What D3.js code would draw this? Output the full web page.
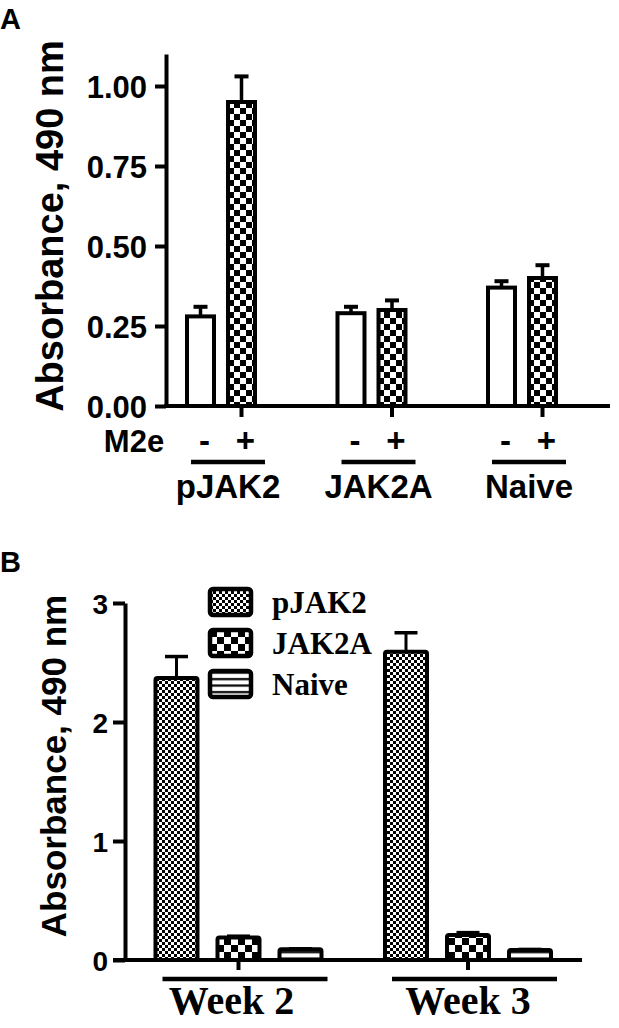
<!DOCTYPE html>
<html>
<head>
<meta charset="utf-8">
<script src="https://cdn.jsdelivr.net/npm/d3@7"></script>
<style>
  html, body { margin: 0; padding: 0; background: #fff; }
  svg { display: block; }
</style>
</head>
<body>
<svg id="chart" width="619" height="1028"></svg>
<script>
// ---------- Panel A data ----------
const groupsA = ["pJAK2", "JAK2A", "Naive"];
const m2eLevels = ["-", "+"];
const meanMinus = [0.28, 0.29, 0.37];
const meanPlus = [0.95, 0.30, 0.40];
const errMinus = [0.03, 0.02, 0.02];
const errPlus = [0.08, 0.03, 0.04];
const ticksA = [0, 0.25, 0.5, 0.75, 1.0];

// ---------- Panel B data ----------
const weeks = ["Week 2", "Week 3"];
const seriesB = ["pJAK2", "JAK2A", "Naive"];
const meanPJAK2 = [2.37, 2.59];
const errPJAK2 = [0.18, 0.16];
const meanJAK2A = [0.19, 0.21];
const errJAK2A = [0.01, 0.02];
const meanNaive = [0.09, 0.085];
const errNaive = [0.004, 0.004];
const ticksB = [0, 1, 2, 3];

const svg = d3.select("#chart");
const SANS = "'Liberation Sans', Arial, sans-serif";
const SERIF = "'Liberation Serif', 'Times New Roman', serif";

// ---------- patterns ----------
const defs = svg.append("defs");
function checker(id, c) {
  const p = defs.append("pattern").attr("id", id).attr("patternUnits", "userSpaceOnUse")
    .attr("width", 2 * c).attr("height", 2 * c);
  p.append("rect").attr("width", 2 * c).attr("height", 2 * c).attr("fill", "#fff");
  p.append("rect").attr("x", 0).attr("y", 0).attr("width", c).attr("height", c).attr("fill", "#000");
  p.append("rect").attr("x", c).attr("y", c).attr("width", c).attr("height", c).attr("fill", "#000");
}
checker("chkA", 6);
checker("chkFine", 3);
checker("chkCoarse", 7);
(function () {
  const p = defs.append("pattern").attr("id", "stripes").attr("patternUnits", "userSpaceOnUse")
    .attr("width", 10).attr("height", 6.5);
  p.append("rect").attr("width", 10).attr("height", 6.5).attr("fill", "#fff");
  p.append("rect").attr("x", 0).attr("y", 2).attr("width", 10).attr("height", 2.2).attr("fill", "#000");
})();

// ================= PANEL A =================
const yA = d3.scaleLinear().domain([0, 1.1]).range([406, 54]);
const xGA = d3.scalePoint().domain(groupsA).range([221, 522]);
const xIA = d3.scaleBand().domain(m2eLevels).range([-36, 36]).paddingInner(10 / 41).paddingOuter(0);
const bwA = xIA.bandwidth();

const gA = svg.append("g");
const dataA = [];
groupsA.forEach((g, i) => {
  dataA.push({ g, k: "-", v: meanMinus[i], e: errMinus[i] });
  dataA.push({ g, k: "+", v: meanPlus[i], e: errPlus[i] });
});
const cxA = d => xGA(d.g) + xIA(d.k) + bwA / 2;

// error bars
gA.selectAll(".errA").data(dataA).enter().append("line")
  .attr("x1", cxA).attr("x2", cxA)
  .attr("y1", d => yA(d.v)).attr("y2", d => yA(d.v + d.e))
  .attr("stroke", "#000").attr("stroke-width", 3.5);
gA.selectAll(".capA").data(dataA).enter().append("line")
  .attr("x1", d => cxA(d) - 7).attr("x2", d => cxA(d) + 7)
  .attr("y1", d => yA(d.v + d.e)).attr("y2", d => yA(d.v + d.e))
  .attr("stroke", "#000").attr("stroke-width", 4);
// bars
gA.selectAll(".barA").data(dataA).enter().append("rect")
  .attr("x", d => xGA(d.g) + xIA(d.k) + 2)
  .attr("width", bwA - 4)
  .attr("y", d => yA(d.v))
  .attr("height", d => yA(0) - yA(d.v))
  .attr("fill", d => d.k === "+" ? "url(#chkA)" : "#fff")
  .attr("stroke", "#000").attr("stroke-width", 4);

// y axis A
const axA = gA.append("g").attr("transform", "translate(166,0)")
  .call(d3.axisLeft(yA).tickValues(ticksA).tickFormat(d3.format(".2f"))
    .tickSize(11).tickSizeOuter(0).tickPadding(8));
axA.select(".domain").attr("stroke-width", 4);
axA.selectAll(".tick line").attr("stroke-width", 4);
axA.selectAll(".tick text").attr("font-family", SANS).attr("font-weight", "bold")
  .attr("font-size", 31).attr("fill", "#000").attr("dy", "0.36em");

// x axis A
gA.append("line").attr("x1", 164).attr("x2", 610).attr("y1", yA(0)).attr("y2", yA(0))
  .attr("stroke", "#000").attr("stroke-width", 4);
gA.selectAll(".xtA").data(groupsA).enter().append("line")
  .attr("x1", g => xGA(g) + xIA("+") + bwA / 2).attr("x2", g => xGA(g) + xIA("+") + bwA / 2)
  .attr("y1", yA(0)).attr("y2", yA(0) + 11)
  .attr("stroke", "#000").attr("stroke-width", 4);

// +/- labels
gA.selectAll(".pmA").data(dataA).enter().append("text")
  .attr("x", d => cxA(d) + 4).attr("y", 452)
  .attr("text-anchor", "middle")
  .attr("font-family", SANS).attr("font-weight", "bold").attr("font-size", 33)
  .text(d => d.k);
gA.append("text").attr("x", 134).attr("y", 452).attr("text-anchor", "middle")
  .attr("font-family", SANS).attr("font-weight", "bold").attr("font-size", 31).text("M2e");

// group lines and labels
const lineA = g => [xGA(g) + xIA("-") + 6, xGA(g) + xIA("+") + bwA + 8];
gA.selectAll(".glA").data(groupsA).enter().append("line")
  .attr("x1", g => lineA(g)[0]).attr("x2", g => lineA(g)[1])
  .attr("y1", 462).attr("y2", 462).attr("stroke", "#000").attr("stroke-width", 4.5);
gA.selectAll(".gtA").data(groupsA).enter().append("text")
  .attr("x", g => (lineA(g)[0] + lineA(g)[1]) / 2).attr("y", 498)
  .attr("text-anchor", "middle")
  .attr("font-family", SANS).attr("font-weight", "bold").attr("font-size", 33)
  .text(g => g);

// axis title A
gA.append("text").attr("transform", "translate(63,226) rotate(-90)")
  .attr("text-anchor", "middle")
  .attr("font-family", SANS).attr("font-weight", "bold").attr("font-size", 38)
  .text("Absorbance, 490 nm");
svg.append("text").attr("x", 0).attr("y", 29)
  .attr("font-family", SANS).attr("font-weight", "bold").attr("font-size", 29).text("A");

// ================= PANEL B =================
const yB = d3.scaleLinear().domain([0, 3]).range([960, 603]);
const xGB = d3.scalePoint().domain(weeks).range([238.5, 468]);
const xIB = d3.scaleBand().domain(seriesB).range([-85, 85]).paddingInner(16 / 62).paddingOuter(0);
const bwB = xIB.bandwidth();
const fillB = { "pJAK2": "url(#chkFine)", "JAK2A": "url(#chkCoarse)", "Naive": "url(#stripes)" };

const gB = svg.append("g");
const dataB = [];
weeks.forEach((w, i) => {
  dataB.push({ w, s: "pJAK2", v: meanPJAK2[i], e: errPJAK2[i] });
  dataB.push({ w, s: "JAK2A", v: meanJAK2A[i], e: errJAK2A[i] });
  dataB.push({ w, s: "Naive", v: meanNaive[i], e: errNaive[i] });
});
const cxB = d => xGB(d.w) + xIB(d.s) + bwB / 2;

gB.selectAll(".errB").data(dataB).enter().append("line")
  .attr("x1", cxB).attr("x2", cxB)
  .attr("y1", d => yB(d.v)).attr("y2", d => yB(d.v + d.e))
  .attr("stroke", "#000").attr("stroke-width", 3);
gB.selectAll(".capB").data(dataB).enter().append("line")
  .attr("x1", d => cxB(d) - 11.5).attr("x2", d => cxB(d) + 11.5)
  .attr("y1", d => yB(d.v + d.e)).attr("y2", d => yB(d.v + d.e))
  .attr("stroke", "#000").attr("stroke-width", 3.5);
gB.selectAll(".barB").data(dataB).enter().append("rect")
  .attr("x", d => xGB(d.w) + xIB(d.s) + 2)
  .attr("width", bwB - 4)
  .attr("y", d => yB(d.v))
  .attr("height", d => yB(0) - yB(d.v))
  .attr("rx", 2)
  .attr("fill", d => fillB[d.s])
  .attr("stroke", "#000").attr("stroke-width", 4).attr("stroke-linejoin", "round");

// y axis B
const axB = gB.append("g").attr("transform", "translate(125,0)")
  .call(d3.axisLeft(yB).tickValues(ticksB).tickFormat(d3.format("d"))
    .tickSize(12).tickSizeOuter(0).tickPadding(5));
axB.select(".domain").attr("stroke-width", 4);
axB.selectAll(".tick line").attr("stroke-width", 4);
axB.selectAll(".tick text").attr("font-family", SANS).attr("font-weight", "bold")
  .attr("font-size", 28).attr("fill", "#000").attr("dy", "0.36em");

// x axis B
gB.append("line").attr("x1", 113).attr("x2", 582).attr("y1", yB(0)).attr("y2", yB(0))
  .attr("stroke", "#000").attr("stroke-width", 4);
gB.selectAll(".xtB").data(weeks).enter().append("line")
  .attr("x1", w => xGB(w) + xIB("JAK2A") + bwB / 2).attr("x2", w => xGB(w) + xIB("JAK2A") + bwB / 2)
  .attr("y1", yB(0)).attr("y2", yB(0) + 10)
  .attr("stroke", "#000").attr("stroke-width", 4);

const lineB = w => [xGB(w) + xIB("pJAK2") + 9, xGB(w) + xIB("Naive") + bwB + 4];
gB.selectAll(".glB").data(weeks).enter().append("line")
  .attr("x1", w => lineB(w)[0]).attr("x2", w => lineB(w)[1])
  .attr("y1", 979).attr("y2", 979).attr("stroke", "#000").attr("stroke-width", 4.5);
gB.selectAll(".gtB").data(weeks).enter().append("text")
  .attr("x", (w, i) => xGB(w) - (i === 0 ? 7 : 0)).attr("y", 1014)
  .attr("text-anchor", "middle")
  .attr("font-family", SERIF).attr("font-weight", "bold").attr("font-size", 40)
  .text(w => w);

// legend
const lg = gB.append("g");
seriesB.forEach((s, i) => {
  const cy = 602 + i * 41;
  lg.append("rect").attr("x", 210).attr("y", cy - 13).attr("width", 41).attr("height", 26)
    .attr("rx", 3).attr("fill", fillB[s]).attr("stroke", "#000").attr("stroke-width", 4.5);
  lg.append("text").attr("x", 272).attr("y", cy + 11)
    .attr("font-family", SERIF).attr("font-weight", "bold").attr("font-size", 31).text(s);
});

// axis title B
gB.append("text").attr("transform", "translate(66,766) rotate(-90)")
  .attr("text-anchor", "middle")
  .attr("font-family", SANS).attr("font-weight", "bold").attr("font-size", 35)
  .text("Absorbance, 490 nm");
svg.append("text").attr("x", 0).attr("y", 572)
  .attr("font-family", SANS).attr("font-weight", "bold").attr("font-size", 29).text("B");
</script>
</body>
</html>
